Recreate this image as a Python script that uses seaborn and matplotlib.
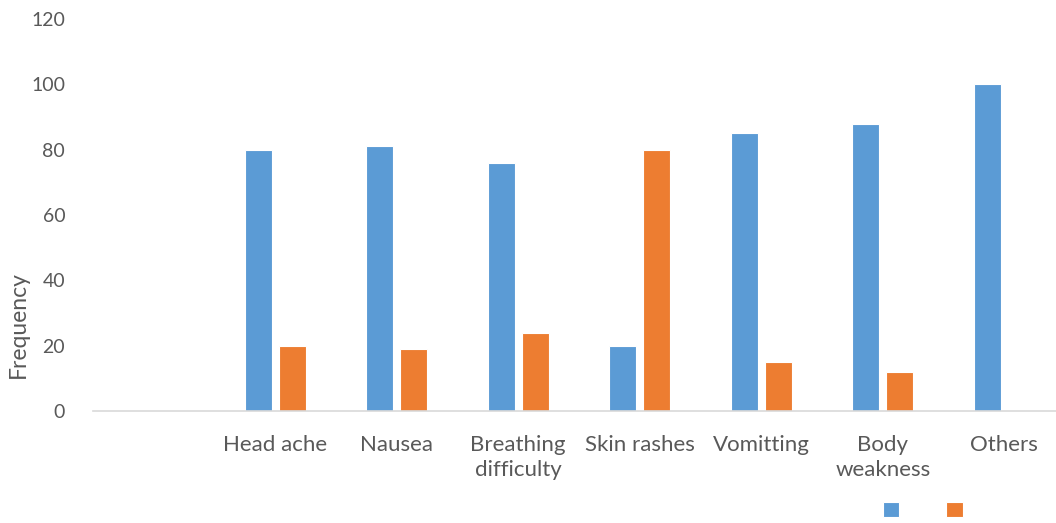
import matplotlib
matplotlib.use("Agg")
import matplotlib.pyplot as plt
import pandas as pd
import seaborn as sns

# symptoms (first slot is blank in the original chart)
symptoms = ["", "Head ache", "Nausea", "Breathing\ndifficulty", "Skin rashes",
            "Vomitting", "Body\nweakness", "Others"]
series_a = [0, 80, 81, 76, 20, 85, 88, 100]
series_b = [0, 20, 19, 24, 80, 15, 12, 0]
series_names = ["A", "B"]
yticks = [0, 20, 40, 60, 80, 100, 120]

df = pd.DataFrame({
    "Symptom": symptoms * 2,
    "Frequency": series_a + series_b,
    "Series": [series_names[0]] * len(symptoms) + [series_names[1]] * len(symptoms),
})

sns.set_style("white")
plt.rcParams['font.family'] = ['Lato', 'DejaVu Sans']
text_col = "#595959"

fig = plt.figure(figsize=(10.56, 5.23), dpi=100)
ax = fig.add_axes([93 / 1056, 112 / 523, 972 / 1056, 392 / 523])

sns.barplot(data=df, x="Symptom", y="Frequency", hue="Series", order=symptoms,
            palette=["#5B9BD5", "#ED7D31"], saturation=1, width=0.56, gap=0.2,
            edgecolor="white", linewidth=0.8, ax=ax)

ax.set_ylim(0, 120)
ax.set_xlim(-0.5, len(symptoms) - 0.5)
ax.set_yticks(yticks)
ax.set_yticklabels([str(t) for t in yticks])
ax.tick_params(axis="both", length=0, colors=text_col)
ax.tick_params(axis="y", pad=20, labelsize=14)
ax.tick_params(axis="x", pad=17, labelsize=16)
for lab in ax.get_xticklabels():
    lab.set_linespacing(1.35)
ax.set_xlabel("")
ax.set_ylabel("Frequency", fontsize=16.5, color=text_col)
ax.yaxis.set_label_coords(-0.066, 0.22)

for s in ["top", "right", "left"]:
    ax.spines[s].set_visible(False)
ax.spines["bottom"].set_color("#D9D9D9")
ax.spines["bottom"].set_linewidth(1.2)

handles, _ = ax.get_legend_handles_labels()
ax.legend(handles, ["", ""], ncol=2, frameon=False, loc="center", fontsize=12,
          bbox_to_anchor=(926 / 1056, 13 / 523), bbox_transform=fig.transFigure,
          handlelength=1.0, handleheight=1.0, columnspacing=2.4, handletextpad=0.4)

fig.savefig("out.png", dpi=100)
